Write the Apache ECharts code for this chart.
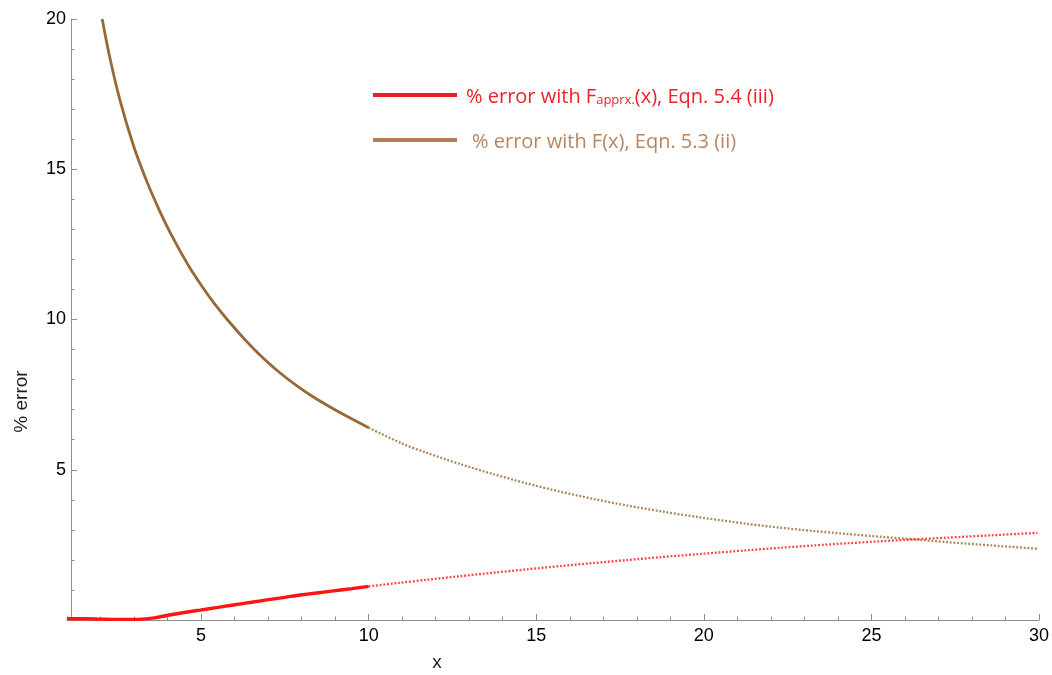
<!DOCTYPE html>
<html>
<head>
<meta charset="utf-8">
<script src="https://cdn.jsdelivr.net/npm/echarts@6/dist/echarts.min.js"></script>
<style>
  html, body { margin: 0; padding: 0; background: #ffffff; }
  #chart { width: 1052px; height: 675px; }
</style>
</head>
<body>
<div id="chart"></div>
<script>
// % error of F(x), Eqn. 5.3 (ii): densely sampled part (x <= 10)
const fExactDense = [
  [2.05, 20.0], [2.28, 18.7], [2.58, 17.3], [2.98, 15.8], [3.38, 14.6],
  [3.75, 13.65], [4.13, 12.78], [4.6, 11.84], [5.0, 11.15], [5.37, 10.57],
  [5.78, 10.0], [6.36, 9.27], [6.85, 8.72], [7.36, 8.22], [7.85, 7.8],
  [8.35, 7.42], [8.85, 7.09], [9.35, 6.78], [10.0, 6.4]
];
// % error of F(x), sparsely sampled part (x >= 10)
const fExactSparse = [
  [10.0, 6.4], [11.0, 5.87], [11.74, 5.56], [12.7, 5.2], [13.73, 4.85],
  [14.7, 4.55], [15.72, 4.27], [16.7, 4.03], [17.71, 3.81], [18.7, 3.62],
  [19.8, 3.43], [21.29, 3.2], [22.3, 3.07], [23.28, 2.96], [24.3, 2.86],
  [25.27, 2.77], [26.3, 2.68], [27.26, 2.59], [28.6, 2.48], [29.95, 2.37]
];
// % error of Fapprx.(x), Eqn. 5.4 (iii): dense part
const fApproxDense = [
  [1.0, 0.04], [1.5, 0.04], [2.0, 0.03], [2.5, 0.02], [2.9, 0.02],
  [3.25, 0.03], [3.6, 0.07], [3.97, 0.15], [4.5, 0.25], [4.97, 0.33],
  [5.5, 0.42], [5.96, 0.5], [6.5, 0.59], [6.96, 0.67], [7.5, 0.755],
  [7.96, 0.83], [8.5, 0.905], [8.95, 0.97], [9.5, 1.045], [10.0, 1.12]
];
// % error of Fapprx.(x): sparse part
const fApproxSparse = [
  [10.0, 1.12], [10.9, 1.235], [11.74, 1.34], [12.7, 1.455], [13.73, 1.575],
  [14.7, 1.685], [15.72, 1.795], [16.7, 1.895], [17.71, 1.995], [18.7, 2.09],
  [19.8, 2.19], [21.29, 2.32], [22.3, 2.405], [23.28, 2.48], [24.3, 2.555],
  [25.27, 2.62], [26.3, 2.685], [27.26, 2.74], [28.6, 2.82], [29.95, 2.9]
];

const xMajorTicks = [5, 10, 15, 20, 25, 30];
const seriesNames = {
  approx: '% error with Fapprx.(x), Eqn. 5.4 (iii)',
  exact: '% error with F(x), Eqn. 5.3 (ii)'
};

const BROWN = '#9a6836';
const BROWN_DOT = '#9e703c';
const RED = '#ff1414';
const RED_DOT = '#ff2424';
const AXIS_GRAY = '#8f8f8f';
const TICK_FONT = { fontFamily: 'Liberation Sans, Arial, sans-serif', fontSize: 18, color: '#000' };

const chart = echarts.init(document.getElementById('chart'), null, { renderer: 'canvas' });

const legendRich = {
  m: { fontFamily: 'Open Sans', fontSize: 20, lineHeight: 24, verticalAlign: 'bottom' },
  s: { fontFamily: 'Open Sans', fontSize: 13, lineHeight: 24, verticalAlign: 'bottom' },
  padA: { width: 4, lineHeight: 24 },
  padB: { width: 10, lineHeight: 24 }
};

function curve(name, data, color, width, dotted, z) {
  return {
    name: name,
    type: 'line',
    data: data,
    showSymbol: false,
    symbol: 'none',
    smooth: 0.3,
    lineStyle: dotted
      ? { color: color, width: 2.3, type: [1.9, 1.8], cap: 'butt', opacity: 0.85 }
      : { color: color, width: width },
    itemStyle: { color: color },
    z: z
  };
}

chart.setOption({
  animation: false,
  backgroundColor: '#ffffff',
  grid: { left: 67, right: 13, top: 19, bottom: 55, containLabel: false, outerBoundsMode: 'none' },
  legend: {
    left: 368,
    top: 80,
    orient: 'vertical',
    icon: 'rect',
    itemWidth: 84,
    itemHeight: 4,
    itemGap: 23,
    selectedMode: false,
    data: [
      { name: seriesNames.approx, itemStyle: { color: '#ee1d24' }, textStyle: { color: '#ee2227' } },
      { name: seriesNames.exact, itemStyle: { color: '#b67c56' }, textStyle: { color: '#b9855f' } }
    ],
    formatter: function (name) {
      if (name === seriesNames.approx) {
        return '{padA|}{m|% error with F}{s|apprx.}{m|(x), Eqn. 5.4 (iii)}';
      }
      return '{padB|}{m|% error with F(x), Eqn. 5.3 (ii)}';
    },
    textStyle: { fontFamily: 'Open Sans', fontSize: 20, rich: legendRich }
  },
  xAxis: [
    {
      type: 'value',
      min: 1,
      max: 30,
      position: 'bottom',
      name: 'x',
      nameLocation: 'middle',
      nameGap: 33,
      nameTextStyle: {
        fontFamily: 'Liberation Sans, Arial, sans-serif', fontSize: 19, color: '#1e1e28',
        padding: [0, 232, 0, 0]
      },
      axisLine: { show: true, lineStyle: { color: AXIS_GRAY, width: 1 } },
      axisTick: { show: true, inside: true, length: 6, customValues: xMajorTicks, lineStyle: { color: AXIS_GRAY } },
      axisLabel: Object.assign({ margin: 7, customValues: xMajorTicks }, TICK_FONT),
      splitLine: { show: false }
    },
    {
      // unit minor ticks along the x axis
      type: 'value',
      min: 1,
      max: 30,
      interval: 1,
      position: 'bottom',
      axisLine: { show: false },
      axisTick: { show: true, inside: true, length: 3.5, lineStyle: { color: AXIS_GRAY } },
      axisLabel: { show: false },
      splitLine: { show: false }
    }
  ],
  yAxis: {
    type: 'value',
    min: 0,
    max: 20,
    interval: 5,
    offset: -4,
    name: '% error',
    nameLocation: 'middle',
    nameRotate: 90,
    nameGap: 40,
    nameTextStyle: {
      fontFamily: 'Liberation Sans, Arial, sans-serif', fontSize: 19, color: '#1e1e28',
      padding: [0, 164, 0, 0]
    },
    axisLine: { show: true, lineStyle: { color: AXIS_GRAY, width: 1 } },
    axisTick: { show: true, inside: true, length: 6, lineStyle: { color: AXIS_GRAY } },
    minorTick: { show: true, splitNumber: 5, length: 3.5, lineStyle: { color: AXIS_GRAY } },
    axisLabel: Object.assign({ margin: 5, showMinLabel: false }, TICK_FONT),
    splitLine: { show: false }
  },
  series: [
    curve(seriesNames.exact, fExactDense, BROWN, 2.8, false, 3),
    curve(seriesNames.exact, fExactSparse, BROWN_DOT, 2.3, true, 3),
    curve(seriesNames.approx, fApproxDense, RED, 3.4, false, 4),
    curve(seriesNames.approx, fApproxSparse, RED_DOT, 2.3, true, 4)
  ]
});
</script>
</body>
</html>
